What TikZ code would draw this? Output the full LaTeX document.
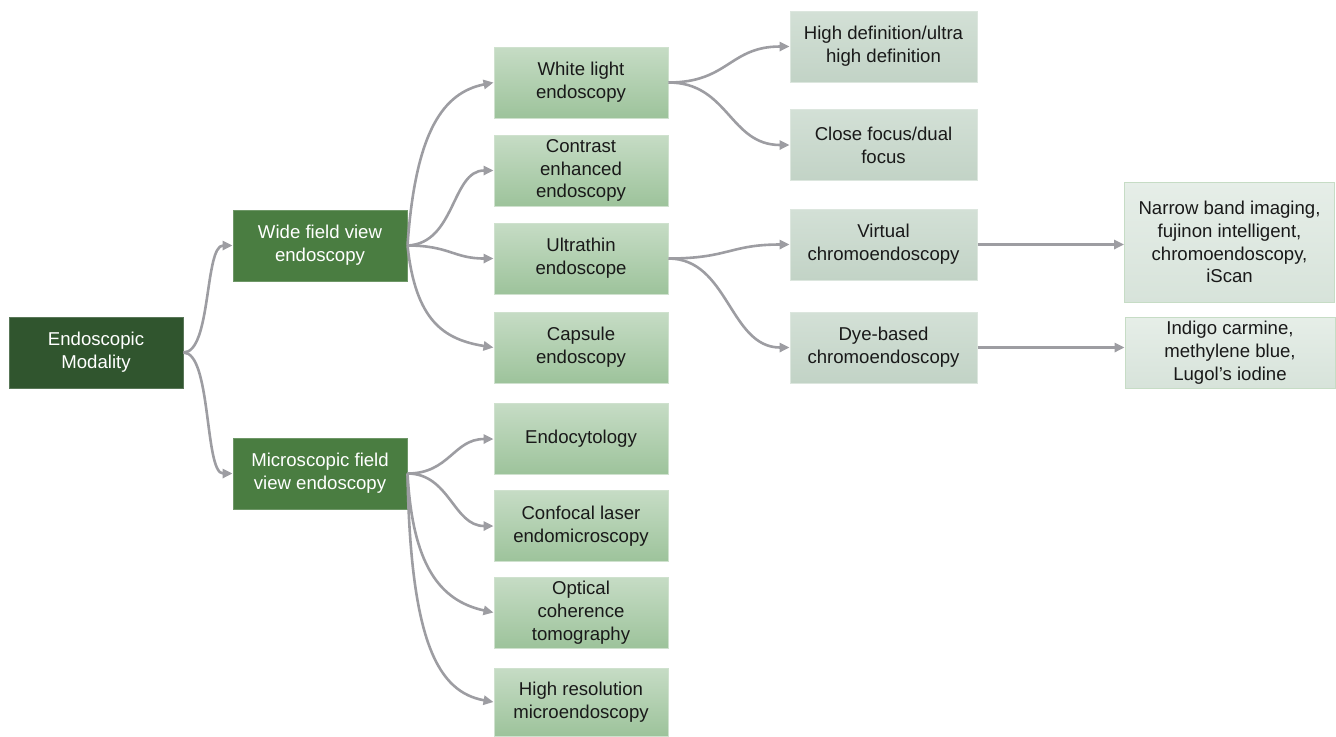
\documentclass[tikz,border=0pt]{standalone}
\usepackage{fontspec}
\setmainfont{Liberation Sans}
\usetikzlibrary{arrows.meta}
\definecolor{rootgreen}{HTML}{30552E}
\definecolor{midgreen}{HTML}{4A7D41}
\definecolor{linkgray}{HTML}{9D9DA2}
\definecolor{twotop}{HTML}{C6DCC5}
\definecolor{twobot}{HTML}{9DC39B}
\definecolor{threetop}{HTML}{D3E0D6}
\definecolor{threebot}{HTML}{C2D3C6}
\definecolor{fourtop}{HTML}{E6EEE8}
\definecolor{fourbot}{HTML}{D7E3DA}
\begin{document}
\begin{tikzpicture}[x=0.5pt, y=-0.5pt, line width=1.3pt,
  every node/.style={font=\fontsize{9.3}{11.4}\selectfont, align=center, inner sep=0pt},
  box/.style={rectangle, minimum width=87pt, minimum height=35.5pt, line width=0.5pt},
  lvlroot/.style={box, fill=rootgreen, draw=rootgreen!80!white, text=white},
  lvlone/.style={box, fill=midgreen, draw=midgreen!80!white, text=white},
  lvltwo/.style={box, top color=twotop, bottom color=twobot, draw=twotop!85!white, text=black!90},
  lvlthree/.style={box, minimum width=93.5pt, top color=threetop, bottom color=threebot, draw=threetop!80!white, text=black!90},
  lvlfour/.style={box, minimum width=105pt, top color=fourtop, bottom color=fourbot, draw=twotop, text=black!90},
  link/.style={draw=linkgray, -{Triangle[length=5pt, width=4.6pt]}}]
  \useasboundingbox (0,0) rectangle (1336,736);
  \node[lvlroot] (modal) at (96,352.5) {Endoscopic\\Modality};
  \node[lvlone] (wide) at (320,245.5) {Wide field view\\endoscopy};
  \node[lvlone] (micro) at (320,473.5) {Microscopic field\\view endoscopy};
  % second column
  \node[lvltwo] (white) at (581,82.5) {White light\\endoscopy};
  \node[lvltwo] (contrast) at (581,170.5) {Contrast\\enhanced\\endoscopy};
  \node[lvltwo] (ultra) at (581,258.5) {Ultrathin\\endoscope};
  \node[lvltwo] (capsule) at (581,347.5) {Capsule\\endoscopy};
  \node[lvltwo] (cyto) at (581,439) {Endocytology};
  \node[lvltwo] (confocal) at (581,526) {Confocal laser\\endomicroscopy};
  \node[lvltwo] (oct) at (581,612.5) {Optical\\coherence\\tomography};
  \node[lvltwo, minimum height=34pt] (hrme) at (581,702) {High resolution\\microendoscopy};
  % third and fourth column
  \node[lvlthree] (hd) at (883.5,46.5) {High definition/ultra\\high definition};
  \node[lvlthree] (focus) at (883.5,145) {Close focus/dual\\focus};
  \node[lvlthree] (virtual) at (883.5,244.5) {Virtual\\chromoendoscopy};
  \node[lvlthree] (dye) at (883.5,347.5) {Dye-based\\chromoendoscopy};
  \node[lvlfour, minimum height=60pt] (nbi) at (1229.5,242) {Narrow band imaging,\\fujinon intelligent,\\chromoendoscopy,\\iScan};
  \node[lvlfour] (stains) at (1230,352.5) {Indigo carmine,\\methylene blue,\\Lugol’s iodine};
  \draw[link] (modal.east) .. controls +(28,0) and +(-28,0) .. (wide.west);
  \draw[link] (modal.east) .. controls +(28,0) and +(-28,0) .. (micro.west);
  \draw[link] (wide.east) .. controls +(8,-115) and +(-50,10) .. (white.west);
  \draw[link] (wide.east) .. controls +(48,-2) and +(-42,0) .. (contrast.west);
  \draw[link] (wide.east) .. controls +(42,0) and +(-40,0) .. (ultra.west);
  \draw[link] (wide.east) .. controls +(8,75) and +(-50,-8) .. (capsule.west);
  \draw[link] (micro.east) .. controls +(42,0) and +(-40,0) .. (cyto.west);
  \draw[link] (micro.east) .. controls +(42,0) and +(-40,0) .. (confocal.west);
  \draw[link] (micro.east) .. controls +(5,90) and +(-55,-12) .. (oct.west);
  \draw[link] (micro.east) .. controls +(3,170) and +(-55,-10) .. (hrme.west);
  \draw[link] (white.east) .. controls +(60,0) and +(-60,0) .. (hd.west);
  \draw[link] (white.east) .. controls +(60,0) and +(-60,0) .. (focus.west);
  \draw[link] (ultra.east) .. controls +(60,0) and +(-60,0) .. (virtual.west);
  \draw[link] (ultra.east) .. controls +(60,0) and +(-60,0) .. (dye.west);
  \draw[link] (virtual.east) -- (virtual.east -| nbi.west);
  \draw[link] (dye.east) -- (dye.east -| stains.west);
\end{tikzpicture}
\end{document}
